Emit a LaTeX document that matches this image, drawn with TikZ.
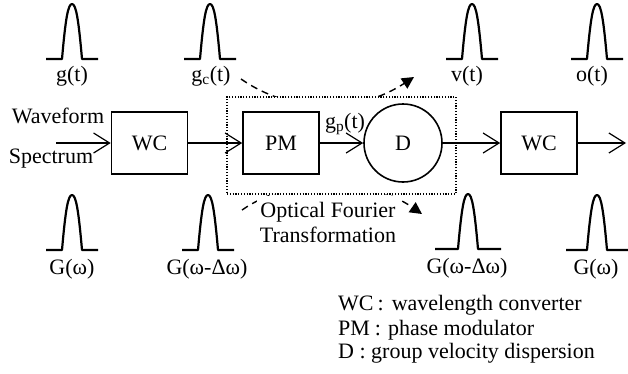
\documentclass[tikz,border=0pt]{standalone}
\usepackage{fontspec}
\setmainfont{Liberation Serif}
\usetikzlibrary{arrows.meta}
\tikzset{
  blk/.style={draw,line width=1.6pt,minimum width=76pt,minimum height=62pt,inner sep=0pt},
  sig/.style={line width=1.2pt,-{Straight Barb[length=16pt,width=20pt]}},
  pulseline/.style={line width=2.2pt,line join=round},
  lbl/.style={anchor=base,inner sep=0pt},
  otfarrow/.style={line width=1.4pt,dash pattern=on 7pt off 5pt,-{Triangle[length=12pt,width=12pt]}},
  otfbox/.style={draw,line width=1.1pt,dash pattern=on 1.2pt off 1.6pt,fill=white},
}
% pulse: centre x, baseline y, half span
\newcommand{\pulse}[3]{%
  \draw[pulseline] (#1-#3,#2) -- (#1-10,#2) .. controls (#1-6.5,#2-40) and (#1-4,#2-55) .. (#1,#2-55)
     .. controls (#1+4,#2-55) and (#1+6.5,#2-40) .. (#1+10,#2) -- (#1+#3,#2);
}

\begin{document}
\begin{tikzpicture}[x=1pt,y=-1pt,font=\fontsize{22}{26}\selectfont]
  \useasboundingbox (0,0) rectangle (628,373);
  % ---------- pulses, time domain ----------
  \pulse{72}{59}{26}
  \pulse{210}{59}{26}
  \pulse{472}{59}{26}
  \pulse{597}{59}{26}
  \node[lbl] (gt)  at (72,81)  {g(t)};
  \node[lbl] (gct) at (211,81) {g\textsubscript{c}(t)};
  \node[lbl] (vt)  at (467,81) {v(t)};
  \node[lbl] (ot)  at (592,81) {o(t)};
  % ---------- pulses, spectrum ----------
  \pulse{72}{250}{26}
  \pulse{208}{250}{26}
  \pulse{468}{249}{33}
  \pulse{597}{250}{31}
  \node[lbl] (Gw1)  at (72,274)  {G(ω)};
  \node[lbl] (Gdw1) at (207,274) {G(ω-Δω)};
  \node[lbl] (Gdw2) at (467,273) {G(ω-Δω)};
  \node[lbl] (Gw2)  at (596,274) {G(ω)};
  % ---------- Fourier transformation arrows ----------
  \coordinate (ftops) at (241,79);
  \coordinate (ftope) at (414,77);
  \coordinate (fbots) at (242,210);
  \coordinate (fbote) at (422,214);
  \draw[otfarrow] (ftops) .. controls (293,115) and (359,113) .. (ftope);
  \draw[otfarrow] (fbots) .. controls (294,174) and (370,178) .. (fbote);
  \node[otfbox,minimum width=229pt,minimum height=97pt] (otf) at (341.5,145.5) {};
  % ---------- signal chain ----------
  \node[lbl] (wave) at (58,123) {Waveform};
  \node[lbl] (spec) at (51,163) {Spectrum};
  \coordinate (src) at (56,143);
  \coordinate (snk) at (626,143);
  \node[blk] (wc1) at (149.5,143) {WC};
  \node[blk] (pm)  at (281,143)   {PM};
  \node[draw,circle,line width=1.6pt,minimum size=78pt,inner sep=0pt] (d) at (403,143) {D};
  \node[blk] (wc2) at (539,143)   {WC};
  \draw[sig] (src) -- (wc1);
  \draw[sig] (wc1) -- (pm);
  \draw[sig] (pm) -- (d);
  \draw[sig] (d) -- (wc2);
  \draw[sig] (wc2) -- (snk);
  \node[lbl] (gpt) at (345,128) {g\textsubscript{p}(t)};
  \node[lbl,fill=white,inner xsep=3pt,inner ysep=6pt] (oft1) at (328,217) {Optical Fourier};
  \node[lbl] (oft2) at (328,242) {Transformation};
  % ---------- legend ----------
  \foreach \yy/\txt [count=\i] in {310/{WC\hspace{4pt}:\hspace{8pt}wavelength converter},
                                   335/{PM\hspace{5pt}:\hspace{7pt}phase modulator},
                                   358/{D : group velocity dispersion}}{
     \node[anchor=base west,inner sep=0pt] (leg\i) at (338,\yy) {\txt};}
\end{tikzpicture}
\end{document}
